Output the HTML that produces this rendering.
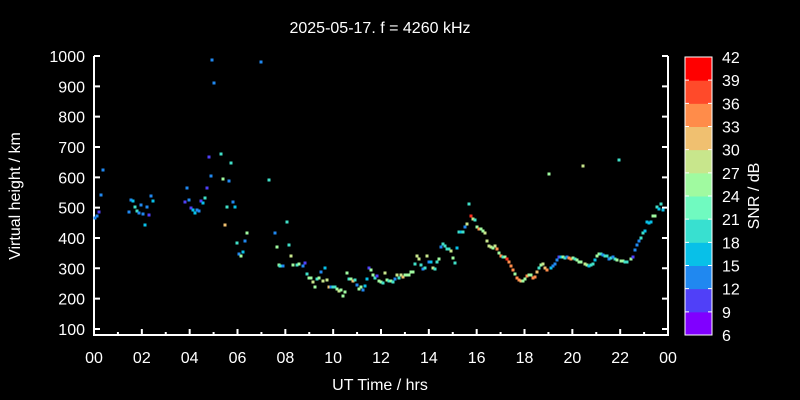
<!DOCTYPE html>
<html><head><meta charset="utf-8"><style>
html,body{margin:0;padding:0;background:#000;}
svg{display:block;}
text{font-family:"Liberation Sans",sans-serif;fill:#fff;}
</style></head><body>
<svg id="s" width="800" height="400" viewBox="0 0 800 400" xmlns="http://www.w3.org/2000/svg">
<rect width="800" height="400" fill="#000"/>
<text x="380" y="33" font-size="16" text-anchor="middle">2025-05-17. f = 4260 kHz</text>
<text x="380" y="390" font-size="16" text-anchor="middle">UT Time / hrs</text>
<text transform="translate(20,196) rotate(-90)" font-size="16" text-anchor="middle">Virtual height / km</text>
<text transform="translate(759,196) rotate(-90)" font-size="16" text-anchor="middle">SNR / dB</text>
<g id="ax" stroke="#fff" stroke-width="2" fill="none"></g>
<g id="lab" font-size="16"></g>
<g id="pts"></g>
<g id="cb"></g>
</svg>
<script>
var NS="http://www.w3.org/2000/svg";
function el(p,t,a,txt){var e=document.createElementNS(NS,t);for(var k in a)e.setAttribute(k,a[k]);if(txt!==undefined)e.textContent=txt;p.appendChild(e);return e;}
var ax=document.getElementById('ax'),lab=document.getElementById('lab'),pts=document.getElementById('pts'),cb=document.getElementById('cb');
var L=94,R=668,B=335,T=56;
el(ax,'path',{d:'M'+L+' '+T+'V'+B+'H'+R+'V'+T});
function yk(v){return 56+(1000-v)*0.3033;}
for(var v=100;v<=1000;v+=100){var y=yk(v);
 el(ax,'path',{d:'M'+L+' '+y+'h6M'+R+' '+y+'h-6'});
 el(lab,'text',{x:85,y:y+6,'text-anchor':'end'},String(v));}
for(var h=0;h<=24;h++){var x=L+h*23.917;
 el(ax,'path',{d:'M'+x+' '+B+'v'+(h%2?-3:-6)});
 if(h%2==0){var s=(h%24<10?'0':'')+(h%24);el(lab,'text',{x:x,y:363,'text-anchor':'middle'},s);}}
var cols=['#8000ff','#5040f8','#2088f0','#08c0e8','#38e0d0','#70fac0','#a0faa0','#c8e68c','#f0c070','#ff8c4a','#ff4a2a','#ff0000'];
var bh=(335-57)/12;
for(var i=0;i<12;i++){el(cb,'rect',{x:685,y:335-(i+1)*bh,width:27,height:bh+0.5,fill:cols[i]});}
el(cb,'rect',{x:685,y:57,width:27,height:278,fill:'none',stroke:'#fff','stroke-width':1});
for(var i=0;i<=12;i++){var y=335-i*bh;el(cb,'path',{d:'M685 '+y+'h4M712 '+y+'h-4',stroke:'#fff','stroke-width':1});
 el(cb,'text',{x:722,y:y+6,'font-size':16},String(6+3*i));}
var C={p:'#5040f8',b:'#2088f0',c:'#08c0e8',t:'#40e0c8',m:'#70fac0',g:'#a0faa0',y:'#c8e68c',o:'#f0c070',O:'#ff8c4a',r:'#ff3020'};
var d="95,218,b 97,216,b 99,212,p 101,195,b 103,170,b 129,212,b 131,200,b 133,201,c 135,207,t 137,211,t 139,213,b 141,205,b 143,214,b 145,225,c 147,207,b 149,215,p 151,196,b 153,201,c "+
"185,202,p 187,188,b 189,200,b 191,208,p 193,210,c 195,213,c 197,210,b 199,211,b 201,201,p 203,203,c 205,198,t 207,188,p 209,157,p 211,176,b 212,60,b 214,83,b 221,154,t 223,179,g 225,225,o 227,207,t 229,181,b 231,163,t 233,202,b 235,207,c 237,243,t 239,254,b 241,256,g 243,252,c 245,241,b 247,233,g 261,62,b 269,180,t 275,233,b 277,247,g 279,265,g 283,266,b "+
"287,222,t 289,245,t 291,256,y 280,266,t 293,265,g 297,265,t 299,264,g 305,263,p 303,266,b 307,274,t 309,278,g 311,278,g 313,282,y 315,287,g 317,279,t 319,278,g 321,272,b 323,281,y 325,268,c 327,280,y 329,287,o 331,287,b 333,287,t 335,287,t 337,289,g 339,291,y 341,290,g 343,296,g 345,292,g 347,273,g 349,279,t 351,279,g 353,281,o 355,280,t 357,285,b 359,289,g 361,287,g 363,290,b 365,286,c 367,279,c 369,268,p 371,270,g 373,275,g 375,278,t 377,276,p 379,281,g 381,282,g 383,283,t 385,273,y 387,280,g 389,281,t 391,281,g 393,282,t 395,279,b 397,275,y 399,278,t 401,275,y 403,277,o 405,275,g 407,275,g 409,275,g 411,272,g 413,272,g 415,264,t 417,256,y 419,259,y 421,265,t 423,269,b 425,268,t 427,256,y 429,262,b 431,262,c 433,268,y 435,269,t 437,262,t 439,259,g 441,247,b 443,244,t 445,246,t 447,249,t 449,249,t 451,251,y 453,258,g 455,263,t 457,248,c 459,232,t 461,232,c 463,232,t 465,227,b 467,224,y 469,204,t "+
"471,216,r 473,219,y 475,220,t 477,227,g 479,229,O 481,229,g 483,231,g 485,233,y 487,241,y 489,246,y 491,247,y 493,248,g 495,246,y 497,249,O 499,253,g 501,256,O 503,257,t 505,257,g 507,259,r 509,262,O 511,266,O 513,270,O 515,274,g 517,278,O 519,280,O 521,281,o 523,281,g 525,279,g 527,276,O 529,275,g 531,275,g 533,278,O 535,277,O 537,272,o 539,268,t 541,265,g 543,264,y 545,268,o 547,270,O 551,268,c 553,266,b 555,264,b 557,260,b 559,257,p 561,257,c 563,257,g 565,258,t 567,257,b 569,258,O 571,259,O 573,258,g 575,259,t 577,260,g 579,262,g 581,262,g 585,264,y 587,265,g 589,266,c 591,265,t 593,264,t 595,260,c 597,256,g 599,254,g 601,254,t 603,255,b 605,256,t 607,256,t 609,259,b 611,258,t 613,257,b 615,259,t 617,260,g 621,261,g 623,261,g 625,262,t 627,262,t 631,259,g 633,257,p 635,250,b 637,245,b 639,241,b 641,238,t 643,233,t 645,231,c 647,222,c 649,223,c 651,222,c 653,216,g 655,216,g 657,207,t 659,209,c 661,204,t 663,210,c 549,174,g 583,166,y 619,160,t";
d.split(' ').forEach(function(q){var a=q.split(',');el(pts,'rect',{x:+a[0]-1.5,y:+a[1]-1.5,width:3,height:3,fill:C[a[2]]});});
</script>
</body></html>
